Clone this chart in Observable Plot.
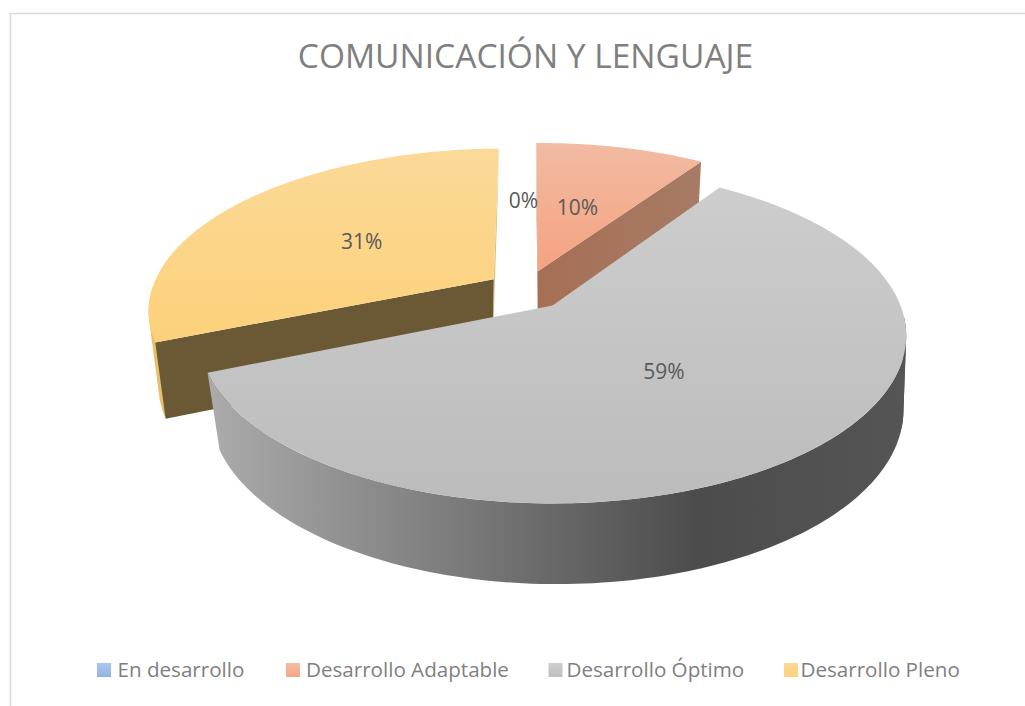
<!DOCTYPE html>
<html><head><meta charset="utf-8">
<script src="https://cdn.jsdelivr.net/npm/d3@7"></script>
<script src="https://cdn.jsdelivr.net/npm/@observablehq/plot@0.6"></script>
<style>html,body{margin:0;padding:0;background:#fff}svg{display:block}</style>
</head><body><div id="chart"></div>
<script>
// Data
const categories = ["En desarrollo", "Desarrollo Adaptable", "Desarrollo Óptimo", "Desarrollo Pleno"];
const shares = [0, 9.5, 59.4, 31.1];
const chartTitle = "COMUNICACIÓN Y LENGUAJE";

// Layout / projection of the tilted pie
const W = 1025, H = 706;
const topFace = {x0: 552, y0: 305, a: 348, b: 162.5, k: 0.179};
const botX0 = [552, 552, 556.4, 549];
const botA = [337, 337, 341.5, 337];
const botFaces = botX0.map((x0, i) => ({x0, y0: 380, a: botA[i], b: 169, k: 0.17}));
const explodeU = [-0.088, -0.0447, 0, -0.174];
const explodeV = [-0.223, -0.218, 0, -0.167];
const rotation = -0.7;
const labelR = [0.5, 0.44, 0.47, 0.5];
const labelDy = [0, -4, 4, 3];
const legendSwatchX = [97, 286, 548.5, 784];
const legendTextX = [117, 305.5, 566, 800];

const rad = d => d * Math.PI / 180;
function project(f, u, v) {
  const s = 1 / (1 - f.k * v);
  return [f.x0 + f.a * u * s, f.y0 + f.b * v * s];
}
let acc = rotation;
const slices = categories.map((name, i) => {
  const a0 = acc, a1 = acc + shares[i] * 3.6;
  acc = a1;
  return {name, i, a0, a1, du: explodeU[i], dv: explodeV[i], share: shares[i]};
});
const planePt = (s, deg, r = 1) => [s.du + r * Math.sin(rad(deg)), s.dv - r * Math.cos(rad(deg))];
const arcAngles = (from, to) => d3.range(0, 121).map(j => from + (to - from) * j / 120);
const pts = arr => arr.map(([x, y]) => ({x, y}));

function topPolygon(s) {
  const rim = arcAngles(s.a0, s.a1).map(a => project(topFace, ...planePt(s, a)));
  return pts([project(topFace, s.du, s.dv), ...rim]);
}
// Outer wall ribbon between two angles
function wallPolygon(s, from, to) {
  const angs = arcAngles(from, to);
  const t = angs.map(a => project(topFace, ...planePt(s, a)));
  const b = angs.map(a => project(botFaces[s.i], ...planePt(s, a))).reverse();
  return pts([...t, ...b]);
}
// Wall silhouette where the side turns away: hull of the rims over an angle span
function wallHull(s, from, to) {
  const angs = arcAngles(from, to);
  const all = [...angs.map(a => project(topFace, ...planePt(s, a))),
               ...angs.map(a => project(botFaces[s.i], ...planePt(s, a)))];
  return pts(d3.polygonHull(all));
}
function radialPolygon(s, deg) {
  const c = [s.du, s.dv], o = planePt(s, deg), f = botFaces[s.i];
  return pts([project(topFace, ...c), project(topFace, ...o), project(f, ...o), project(f, ...c)]);
}

// Gradients are definitions used as fill colours by the marks below
const gradients = [
  ["gTop1", 0, 142, 0, 273, [[0, "#f2bba3"], [1, "#f5a27f"]]],
  ["gTop2", 0, 186, 0, 503, [[0, "#cdcdcd"], [1, "#bcbcbc"]]],
  ["gTop3", 0, 147, 0, 343, [[0, "#fbd998"], [1, "#fdd17a"]]],
  ["gWall2", 210, 0, 906, 0, [[0, "#ababab"], [0.7, "#4c4c4c"], [1, "#555555"]]],
  ["gCut1", 537, 0, 700, 0, [[0, "#a66f55"], [1, "#a77b65"]]],
  ["gSwatch0", 0, 663, 0, 677, [[0, "#aac6ea"], [1, "#91b5e3"]]],
  ["gSwatch1", 0, 663, 0, 677, [[0, "#f4bca4"], [1, "#f5a683"]]],
  ["gSwatch2", 0, 663, 0, 677, [[0, "#cfcfcf"], [1, "#bfbfbf"]]],
  ["gSwatch3", 0, 663, 0, 677, [[0, "#fcd998"], [1, "#fed07a"]]]
];
function defsMark() {
  const ns = "http://www.w3.org/2000/svg";
  const g = document.createElementNS(ns, "defs");
  for (const [id, x1, y1, x2, y2, stops] of gradients) {
    const lg = document.createElementNS(ns, "linearGradient");
    lg.setAttribute("id", id);
    lg.setAttribute("gradientUnits", "userSpaceOnUse");
    Object.entries({x1, y1, x2, y2}).forEach(([k, v]) => lg.setAttribute(k, v));
    for (const [o, c] of stops) {
      const st = document.createElementNS(ns, "stop");
      st.setAttribute("offset", o);
      st.setAttribute("stop-color", c);
      lg.appendChild(st);
    }
    g.appendChild(lg);
  }
  return g;
}
const face = (poly, fill) => Plot.line([...poly, poly[0]], {x: "x", y: "y", fill, stroke: "none", curve: "linear"});

const [s0, s1, s2, s3] = slices;
const labelData = slices.map(s => {
  const mid = (s.a0 + s.a1) / 2;
  const [x, y] = project(topFace, ...planePt(s, mid, labelR[s.i]));
  return {x, y: y + labelDy[s.i], text: `${Math.round(s.share)}%`};
});
const legendData = categories.map((name, i) => ({name, i, sx: legendSwatchX[i], tx: legendTextX[i]}));
const titleData = [{x: 525, y: 57, text: chartTitle}];
const frameLines = [
  [{x: 10, y: 13}, {x: 1025, y: 13}],
  [{x: 10, y: 13}, {x: 10, y: 706}]
];

const chart = Plot.plot({
  width: W, height: H, margin: 0,
  x: {domain: [0, W], range: [0, W], axis: null},
  y: {domain: [0, H], range: [0, H], axis: null},
  style: {background: "#fff", fontFamily: "'Open Sans', sans-serif"},
  marks: [
    defsMark,
    ...frameLines.map(l => Plot.line(l, {x: "x", y: "y", stroke: "#d9d9d9", strokeWidth: 1.6})),
    // Orange slice
    face(radialPolygon(s1, s1.a0), "#8a6a5c"),
    face(radialPolygon(s1, s1.a1), "url(#gCut1)"),
    face(topPolygon(s1), "url(#gTop1)"),
    // Yellow slice
    face(wallHull(s3, s3.a0, s3.a0 + 20), "#e6c06a"),
    face(radialPolygon(s3, s3.a1), "#d9c182"),
    face(radialPolygon(s3, s3.a0), "#6b5835"),
    face(topPolygon(s3), "url(#gTop3)"),
    // Grey slice
    face(wallHull(s2, 94, 106), "url(#gWall2)"),
    face(wallPolygon(s2, 100, s2.a1), "url(#gWall2)"),
    face(topPolygon(s2), "url(#gTop2)"),
    // Value labels
    Plot.text(labelData, {x: "x", y: "y", text: "text", fill: "#595959", fontSize: 21, textAnchor: "middle", lineAnchor: "middle"}),
    // Title
    Plot.text(titleData, {x: "x", y: "y", text: "text", fill: "#7f7f7f", fontSize: 33.5, textAnchor: "middle", lineAnchor: "middle"}),
    // Legend
    ...legendData.map(d => Plot.rect([d], {x1: "sx", x2: s => s.sx + 14, y1: () => 663, y2: () => 677, fill: `url(#gSwatch${d.i})`, inset: 0})),
    Plot.text(legendData, {x: "tx", y: () => 670, text: "name", fill: "#7f7f7f", fontSize: 20.6, textAnchor: "start", lineAnchor: "middle"})
  ]
});
document.getElementById("chart").appendChild(chart);
</script></body></html>
